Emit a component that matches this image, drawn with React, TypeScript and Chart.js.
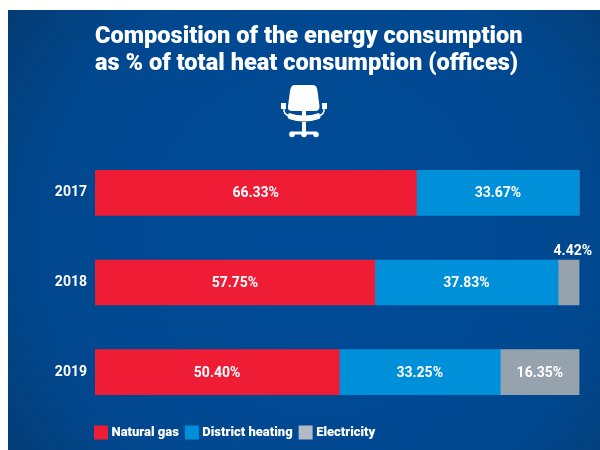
import React, { useEffect, useRef } from "react";
import { Chart, registerables } from "chart.js";

Chart.register(...registerables);

const years = ["2017", "2018", "2019"];
const naturalGas = [66.33, 57.75, 50.4];
const districtHeating = [33.67, 37.83, 33.25];
const electricity = [0, 4.42, 16.35];
const titleLines = ["Composition of the energy consumption", "as % of total heat consumption (offices)"];
const FONT = "Roboto, sans-serif";

const backgroundPlugin = {
  id: "panelBackground",
  beforeDraw(chart: any) {
    const { ctx } = chart;
    const g = ctx.createRadialGradient(320, 240, 60, 320, 240, 400);
    g.addColorStop(0, "#004b97");
    g.addColorStop(0.65, "#00478e");
    g.addColorStop(1, "#053a70");
    ctx.save();
    ctx.fillStyle = g;
    ctx.fillRect(8, 10, 592, 440);
    ctx.restore();
  },
};

const legendNudgePlugin = {
  id: "legendNudge",
  afterLayout(chart: any) {
    chart.legend.left -= 7;
  },
};

const chairPlugin = {
  id: "chairIcon",
  afterDraw(chart: any) {
    const { ctx } = chart;
    ctx.save();
    ctx.fillStyle = "#fff";
    ctx.strokeStyle = "#fff";
    ctx.lineCap = "round";
    // back
    ctx.beginPath();
    ctx.moveTo(294, 85);
    ctx.lineTo(313, 85);
    ctx.quadraticCurveTo(317, 85, 317.5, 91);
    ctx.lineTo(319.5, 106);
    ctx.quadraticCurveTo(320, 111, 315, 111);
    ctx.lineTo(292, 111);
    ctx.quadraticCurveTo(287, 111, 288, 106);
    ctx.lineTo(290, 91);
    ctx.quadraticCurveTo(291, 85, 294, 85);
    ctx.fill();
    // stem
    ctx.fillRect(302, 110, 4, 8);
    ctx.fillRect(302, 122, 4, 12);
    // seat
    ctx.beginPath();
    ctx.moveTo(289, 113);
    ctx.quadraticCurveTo(304, 118, 319, 113);
    ctx.quadraticCurveTo(322, 118, 319, 119);
    ctx.quadraticCurveTo(304, 124, 289, 119);
    ctx.quadraticCurveTo(286, 117, 289, 113);
    ctx.fill();
    // arm rests
    ctx.fillRect(281, 103, 5, 6);
    ctx.fillRect(322, 103, 5, 6);
    ctx.lineWidth = 1.5;
    ctx.beginPath();
    ctx.moveTo(284, 108);
    ctx.quadraticCurveTo(283, 115, 290, 116);
    ctx.moveTo(324, 108);
    ctx.quadraticCurveTo(325, 115, 318, 116);
    ctx.stroke();
    // base
    ctx.lineWidth = 3;
    ctx.beginPath();
    ctx.moveTo(291, 133);
    ctx.lineTo(316, 133);
    ctx.stroke();
    for (const x of [292, 304, 316]) {
      ctx.beginPath();
      ctx.arc(x, 134.5, 2.8, 0, Math.PI * 2);
      ctx.fill();
    }
    ctx.restore();
  },
};

const valueLabelPlugin = {
  id: "valueLabels",
  afterDatasetsDraw(chart: any) {
    const { ctx } = chart;
    ctx.save();
    ctx.fillStyle = "#fff";
    ctx.font = `700 14px ${FONT}`;
    ctx.textAlign = "center";
    ctx.textBaseline = "middle";
    chart.data.datasets.forEach((ds: any, di: number) => {
      chart.getDatasetMeta(di).data.forEach((bar: any, i: number) => {
        const v = ds.data[i];
        if (!v) return;
        const text = v.toFixed(2) + "%";
        const cx = (bar.x + bar.base) / 2;
        if (v < 6) {
          ctx.fillText(text, cx + 4, bar.y - 31);
        } else {
          ctx.fillText(text, cx, bar.y + 1);
        }
      });
    });
    ctx.restore();
  },
};

export default function App() {
  const ref = useRef<HTMLCanvasElement | null>(null);
  useEffect(() => {
    const chart = new Chart(ref.current as HTMLCanvasElement, {
      type: "bar",
      data: {
        labels: years,
        datasets: [
          { label: "Natural gas", data: naturalGas, backgroundColor: "#ef1c35" },
          { label: "District heating", data: districtHeating, backgroundColor: "#0090d9" },
          { label: "Electricity", data: electricity, backgroundColor: "#96a3ae" },
        ],
      },
      options: {
        indexAxis: "y",
        responsive: false,
        animation: false,
        devicePixelRatio: 1,
        layout: { padding: { left: 0, right: 20.5, top: 23.5, bottom: 1 } },
        datasets: { bar: { barThickness: 45, borderWidth: 0 } },
        scales: {
          x: { stacked: true, min: 0, max: 100, display: false },
          y: {
            stacked: true,
            grid: { display: false, drawTicks: false },
            border: { display: false },
            ticks: { color: "#fff", padding: 8, font: { family: FONT, size: 14, weight: 700 } },
            afterFit(scale: any) {
              scale.width = 95;
            },
          },
        },
        plugins: {
          title: {
            display: true,
            text: titleLines,
            align: "start",
            fullSize: false,
            color: "#fff",
            font: { family: FONT, size: 23.6, weight: 900, lineHeight: 1.145 },
            padding: { top: 0, bottom: 70.5 },
          },
          legend: {
            position: "bottom",
            align: "start",
            fullSize: false,
            labels: {
              color: "#fff",
              font: { family: FONT, size: 13, weight: 900 },
              boxWidth: 8,
              boxHeight: 8,
              padding: 9,
              generateLabels(chart: any) {
                return chart.data.datasets.map((d: any, i: number) => ({
                  text: d.label,
                  fillStyle: i === 2 ? "#b4b9c6" : d.backgroundColor,
                  strokeStyle: i === 2 ? "#b4b9c6" : d.backgroundColor,
                  lineWidth: 6,
                  fontColor: "#fff",
                  datasetIndex: i,
                  hidden: false,
                }));
              },
            },
          },
          tooltip: { enabled: false },
        },
      },
      plugins: [backgroundPlugin, legendNudgePlugin, chairPlugin, valueLabelPlugin],
    } as any);
    return () => chart.destroy();
  }, []);
  return (
    <div style={{ position: "fixed", left: 0, top: 0, width: 600, height: 450, background: "#fff" }}>
      <canvas ref={ref} width={600} height={450} style={{ display: "block" }} />
    </div>
  );
}
